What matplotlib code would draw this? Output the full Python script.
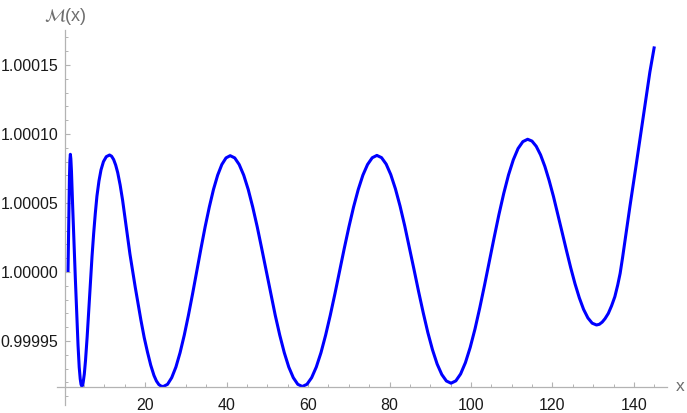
import matplotlib
matplotlib.use("Agg")
import matplotlib.pyplot as plt
from matplotlib.ticker import FixedLocator, FormatStrFormatter

# Curve, one list pair per half-oscillation
x_seg1 = [1.10, 1.30, 1.45, 1.57, 1.68, 1.80, 1.95, 2.10, 2.25, 2.90, 3.56, 3.85, 4.10, 4.30, 4.54]
m_seg1 = [1.0000000, 1.0000400, 1.0000680, 1.0000810, 1.0000853, 1.0000820, 1.0000730, 1.0000600,
          1.0000470, 0.9999954, 0.9999471, 0.9999310, 0.9999225, 0.9999185, 0.9999170]

x_seg2 = [4.80, 5.10, 5.40, 5.80, 6.20, 6.60, 7.00, 7.40, 7.80, 8.20, 8.70, 9.20, 9.80, 10.50, 11.30]
m_seg2 = [0.9999195, 0.9999260, 0.9999360, 0.9999530, 0.9999720, 0.9999920, 1.0000115, 1.0000280,
          1.0000425, 1.0000550, 1.0000660, 1.0000740, 1.0000800, 1.0000836, 1.0000848]

x_seg3 = [11.80, 12.30, 12.80, 13.30, 13.90, 14.50, 15.20, 16.30, 17.60, 19.00, 19.80, 20.60,
          21.40, 22.20, 22.80, 23.40, 24.00, 24.50]
m_seg3 = [1.0000839, 1.0000815, 1.0000775, 1.0000720, 1.0000630, 1.0000520, 1.0000370, 1.0000130,
          0.9999890, 0.9999650, 0.9999525, 0.9999420, 0.9999325, 0.9999250, 0.9999210, 0.9999184,
          0.9999172, 0.9999170]

x_seg4 = [25.53, 26.55, 27.58, 28.60, 29.63, 30.65, 31.68, 32.70, 33.73, 34.75, 35.78, 36.80,
          37.83, 38.85, 39.88, 40.90]
m_seg4 = [0.9999186, 0.9999234, 0.9999311, 0.9999415, 0.9999542, 0.9999686, 0.9999843, 1.0000007,
          1.0000170, 1.0000327, 1.0000471, 1.0000598, 1.0000702, 1.0000779, 1.0000827, 1.0000843]

x_seg5 = [42.01, 43.11, 44.22, 45.33, 46.43, 47.54, 48.64, 49.75, 50.86, 51.96, 53.07, 54.18,
          55.28, 56.39, 57.49, 58.60]
m_seg5 = [1.0000827, 1.0000779, 1.0000702, 1.0000598, 1.0000471, 1.0000327, 1.0000170, 1.0000007,
          0.9999843, 0.9999686, 0.9999542, 0.9999415, 0.9999311, 0.9999234, 0.9999186, 0.9999170]

x_seg6 = [59.74, 60.89, 62.03, 63.18, 64.32, 65.46, 66.61, 67.75, 68.89, 70.04, 71.18, 72.33,
          73.47, 74.61, 75.76, 76.90]
m_seg6 = [0.9999186, 0.9999234, 0.9999311, 0.9999415, 0.9999542, 0.9999686, 0.9999843, 1.0000007,
          1.0000170, 1.0000327, 1.0000471, 1.0000598, 1.0000702, 1.0000779, 1.0000828, 1.0000845]

x_seg7 = [78.04, 79.18, 80.31, 81.45, 82.59, 83.73, 84.86, 86.00, 87.14, 88.28, 89.41, 90.55,
          91.69, 92.83, 93.96, 95.10]
m_seg7 = [1.0000829, 1.0000782, 1.0000706, 1.0000603, 1.0000478, 1.0000335, 1.0000180, 1.0000020,
          0.9999858, 0.9999704, 0.9999561, 0.9999436, 0.9999333, 0.9999257, 0.9999210, 0.9999194]

x_seg8 = [96.28, 97.45, 98.63, 99.80, 100.98, 102.15, 103.33, 104.50, 105.68, 106.85, 108.03,
          109.20, 110.38, 111.55, 112.73, 113.90]
m_seg8 = [0.9999211, 0.9999261, 0.9999343, 0.9999453, 0.9999587, 0.9999740, 0.9999906, 1.0000078,
          1.0000250, 1.0000416, 1.0000569, 1.0000703, 1.0000813, 1.0000895, 1.0000945, 1.0000962]

x_seg9 = [114.96, 116.01, 117.07, 118.13, 119.18, 120.24, 121.29, 122.35, 123.41, 124.46, 125.52,
          126.58, 127.63, 128.69, 129.74, 130.80]
m_seg9 = [1.0000949, 1.0000911, 1.0000849, 1.0000765, 1.0000663, 1.0000547, 1.0000420, 1.0000289,
          1.0000158, 1.0000032, 0.9999915, 0.9999813, 0.9999729, 0.9999667, 0.9999629, 0.9999616]

x_seg10 = [131.50, 132.20, 132.90, 133.70, 134.50, 135.30, 136.00, 136.60, 137.20, 137.80, 138.40,
           139.00, 139.70, 140.40, 141.10, 141.80, 142.50, 143.20, 143.90, 144.50, 145.00]
m_seg10 = [0.9999621, 0.9999637, 0.9999662, 0.9999700, 0.9999755, 0.9999821, 0.9999905, 0.9999990,
           1.0000105, 1.0000230, 1.0000350, 1.0000475, 1.0000610, 1.0000750, 1.0000890, 1.0001030,
           1.0001170, 1.0001310, 1.0001450, 1.0001550, 1.0001635]

x_major = [20, 40, 60, 80, 100, 120, 140]
x_minor = [v for v in range(0, 150, 5) if v % 20 != 0]
y_major = [0.99995, 1.00000, 1.00005, 1.00010, 1.00015]
y_minor = [0.99991, 0.99992, 0.99993, 0.99994, 0.99996, 0.99997, 0.99998, 0.99999,
           1.00001, 1.00002, 1.00003, 1.00004, 1.00006, 1.00007, 1.00008, 1.00009,
           1.00011, 1.00012, 1.00013, 1.00014, 1.00016, 1.00017]

x_vals = (x_seg1 + x_seg2 + x_seg3 + x_seg4 + x_seg5 + x_seg6 + x_seg7 + x_seg8 + x_seg9 + x_seg10)
m_vals = (m_seg1 + m_seg2 + m_seg3 + m_seg4 + m_seg5 + m_seg6 + m_seg7 + m_seg8 + m_seg9 + m_seg10)

plt.rcParams['font.family'] = ['Liberation Sans', 'DejaVu Sans']

W, H = 687, 413
fig = plt.figure(figsize=(W / 100, H / 100), dpi=100)
ax = fig.add_axes([57 / W, 8 / H, 610 / W, 375 / H])

ax.plot(x_vals, m_vals, color=(0, 0, 1), lw=2.2, solid_capstyle='butt', solid_joinstyle='round')

ax.set_xlim(-1.6, 148.1)
ax.set_ylim(0.9999036, 1.0001754)

axis_col = '#b3b3b3'
for s in ['top', 'right']:
    ax.spines[s].set_visible(False)
ax.spines['left'].set_position(('data', 0.37))
ax.spines['bottom'].set_position(('data', 0.999917))
for s in ['left', 'bottom']:
    ax.spines[s].set_color(axis_col)
    ax.spines[s].set_linewidth(0.9)

ax.xaxis.set_major_locator(FixedLocator(x_major))
ax.xaxis.set_minor_locator(FixedLocator(x_minor))
ax.yaxis.set_major_locator(FixedLocator(y_major))
ax.yaxis.set_minor_locator(FixedLocator(y_minor))
ax.yaxis.set_major_formatter(FormatStrFormatter('%.5f'))
ax.xaxis.set_major_formatter(FormatStrFormatter('%d'))

ax.tick_params(which='major', direction='in', length=3.6, width=0.8, color=axis_col,
               labelsize=11.5, labelcolor='#1a1a1a', pad=5)
ax.tick_params(which='minor', direction='in', length=2.2, width=0.7, color=axis_col)
ax.tick_params(axis='x', which='major', pad=8)

ax.text(0.37, 1.0001754 + 0.0000098, r'$\mathcal{M}$(x)', ha='center', va='center',
        fontsize=13, color='#6e6e6e')
ax.text(148.1 + 3.2, 0.999917, 'x', ha='center', va='center', fontsize=12.5, color='#6e6e6e',
        clip_on=False)

fig.savefig('out.png', dpi=100)
